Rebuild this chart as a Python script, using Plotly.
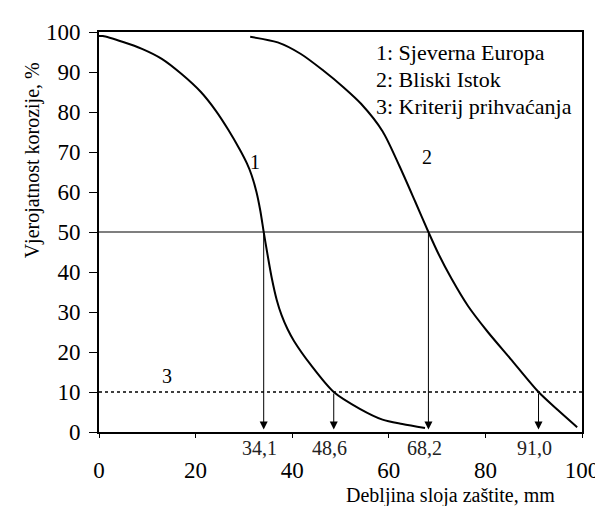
import plotly.graph_objects as go

# ---- data ----
x1 = [0, 0.8, 5, 8.9, 13, 17.1, 21.1, 24.2, 26.8, 29.2, 30.6, 31.6, 32.6, 33.4, 34.1, 34.8, 35.8, 36.8, 37.8, 39.0, 40.4, 43.9, 48.6, 54, 58.7, 62.8, 67.5]
y1 = [99, 99, 97.5, 95.8, 93.3, 89.5, 85, 80.3, 75.5, 70.5, 67.2, 64.2, 60, 55.3, 50, 45, 38.3, 33, 29.2, 25.8, 22.7, 16.7, 10, 5.8, 3.1, 2, 1]

x2 = [31.3, 37, 41.8, 46.5, 50.6, 54.3, 58.7, 62.2, 65.5, 68.2, 70.3, 73, 76.4, 80.5, 85.2, 91.0, 95, 99]
y2 = [98.8, 97.4, 94.5, 90.3, 86.2, 82, 75.2, 66.5, 57.5, 50, 44.5, 38.3, 31.5, 25, 18.3, 10, 5.5, 1.2]

median_level = 50
criterion_level = 10
cross_x = [34.1, 48.6, 68.2, 91.0]
cross_level = [50, 10, 50, 10]

x_ticks = [0, 20, 40, 60, 80, 100]
y_ticks = [0, 10, 20, 30, 40, 50, 60, 70, 80, 90, 100]

legend_lines = ["1: Sjeverna Europa", "2: Bliski Istok", "3: Kriterij prihvaćanja"]
curve_labels = ["1", "2", "3"]
curve_label_x = [32.4, 67.9, 14]
curve_label_y = [67.6, 68.8, 14]

x_title = "Debljina sloja zaštite, mm"
y_title = "Vjerojatnost korozije, %"

FONT = "Liberation Serif, DejaVu Serif, serif"

fig = go.Figure()
for xs, ys in ((x1, y1), (x2, y2)):
    fig.add_trace(go.Scatter(x=xs, y=ys, mode="lines",
                             line=dict(color="black", width=2, shape="spline", smoothing=0.8),
                             hoverinfo="skip"))

fig.add_hline(y=median_level, line=dict(color="black", width=1.2))
fig.add_hline(y=criterion_level, line=dict(color="black", width=1.5, dash="dot"))

annotations = []
for cx, lv in zip(cross_x, cross_level):
    annotations.append(dict(x=cx, y=0.6, ax=cx, ay=lv, xref="x", yref="y",
                            axref="x", ayref="y", showarrow=True, arrowhead=2,
                            arrowsize=1.6, arrowwidth=1, arrowcolor="black", text=""))
    annotations.append(dict(x=cx, y=-0.04, xref="x", yref="paper", showarrow=False,
                            text=f"{cx:.1f}".replace(".", ","), xshift=-4,
                            font=dict(family=FONT, size=20, color="#222"),
                            xanchor="center", yanchor="middle"))

for t, lx, ly in zip(curve_labels, curve_label_x, curve_label_y):
    annotations.append(dict(x=lx, y=ly, xref="x", yref="y", showarrow=False, text=t,
                            font=dict(family=FONT, size=20, color="black")))

for i, t in enumerate(legend_lines):
    annotations.append(dict(x=0.57, y=0.948 - i * 0.0672, xref="paper", yref="paper",
                            showarrow=False, text=t, xanchor="left", yanchor="middle",
                            font=dict(family=FONT, size=22, color="black")))

annotations.append(dict(x=0.728, y=-0.158, xref="paper", yref="paper", showarrow=False,
                        text=x_title, xanchor="center", yanchor="middle",
                        font=dict(family=FONT, size=20, color="black")))
annotations.append(dict(x=-0.138, y=0.68, xref="paper", yref="paper", showarrow=False,
                        text=y_title, textangle=-90, xanchor="center", yanchor="middle",
                        font=dict(family=FONT, size=20, color="black")))

fig.update_layout(
    width=603, height=506,
    margin=dict(l=91, r=19, t=22, b=82),
    plot_bgcolor="white", paper_bgcolor="white",
    showlegend=False,
    annotations=annotations,
    font=dict(family=FONT, color="black"),
)
fig.update_xaxes(range=[0, 100], tickvals=x_ticks, ticks="outside", ticklen=4,
                 tickcolor="black", showline=True, mirror=True, linewidth=2,
                 linecolor="black", showgrid=False, zeroline=False,
                 tickfont=dict(family=FONT, size=23, color="black"),
                 ticklabelstandoff=12)
fig.update_yaxes(range=[0, 100], tickvals=y_ticks, ticks="outside", ticklen=8,
                 tickcolor="black", showline=True, mirror=True, linewidth=2,
                 linecolor="black", showgrid=False, zeroline=False,
                 tickfont=dict(family=FONT, size=23, color="black"),
                 ticklabelstandoff=4)

fig.write_html("out.html")
